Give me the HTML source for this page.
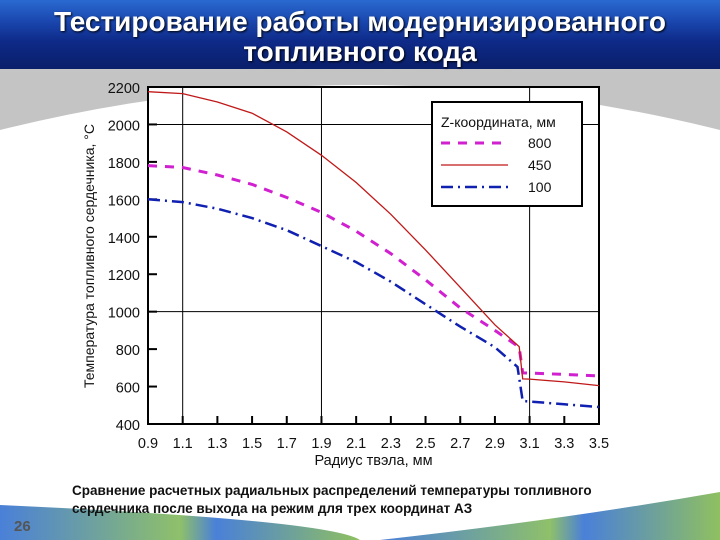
<!DOCTYPE html>
<html><head><meta charset="utf-8">
<style>
body{margin:0;width:720px;height:540px;overflow:hidden;position:relative;background:#fff;font-family:"Liberation Sans","DejaVu Sans",sans-serif}
#hdr{position:absolute;left:0;top:0;width:720px;height:69px;background:linear-gradient(180deg,#2a6ad0 0%,#1a48b0 30%,#0e2a88 60%,#0a1f6a 100%)}
#ttl{position:absolute;left:0;top:7px;width:720px;text-align:center;color:#fff;font-weight:bold;font-size:28px;line-height:30px;text-shadow:1px 1px 2px #000}
#cap{position:absolute;left:72px;top:482px;font-size:13.5px;font-weight:bold;line-height:18px;color:#111;white-space:nowrap}
#pg{position:absolute;left:14px;top:518px;font-size:15px;font-weight:bold;color:#555}
</style></head><body>
<div id="hdr"></div>
<svg width="720" height="540" style="position:absolute;left:0;top:0">
<path d="M0,69 H720 V130 Q360,40 0,130 Z" fill="#c4c4c4"/>
<defs><linearGradient id="bg2" x1="0" x2="1"><stop offset="0" stop-color="#4a80d8"/><stop offset="0.5" stop-color="#8fc06a"/><stop offset="0.6" stop-color="#4a80d8"/><stop offset="1" stop-color="#8fc060"/></linearGradient></defs>
<path d="M0,505 Q330,520 360,540 H0 Z" fill="url(#bg2)"/>
<path d="M380,540 Q560,520 720,492 V540 Z" fill="url(#bg2)"/>
</svg>
<div id="ttl">Тестирование работы модернизированного<br>топливного кода</div>
<svg id="chart" width="720" height="540" style="position:absolute;left:0;top:0"></svg>
<div id="cap">Сравнение расчетных радиальных распределений температуры топливного<br>сердечника после выхода на режим для трех координат АЗ</div>
<div id="pg">26</div>
<script>
const xTicks=[0.9,1.1,1.3,1.5,1.7,1.9,2.1,2.3,2.5,2.7,2.9,3.1,3.3,3.5];
const yTicks=[400,600,800,1000,1200,1400,1600,1800,2000,2200];
const xGrid=[1.1,1.9,3.1];
const yGrid=[1000,2000];
const rX=[0.9,1.1,1.3,1.5,1.7,1.9,2.1,2.3,2.5,2.7,2.9,3.04,3.06,3.1,3.3,3.5];
const s450=[2175,2165,2120,2060,1960,1835,1690,1520,1330,1130,930,813,641,640,625,605];
const s800=[1780,1770,1730,1680,1610,1530,1430,1310,1170,1020,900,810,673,672,665,657];
const bX=[0.9,1.1,1.3,1.5,1.7,1.9,2.1,2.3,2.5,2.7,2.9,3.03,3.06,3.1,3.3,3.5];
const s100=[1600,1585,1550,1500,1435,1350,1265,1160,1040,920,810,705,523,520,505,491];
const L=148,R=599,T=87,B=424;
const sx=v=>L+(v-0.9)/(3.5-0.9)*(R-L);
const sy=v=>B-(v-400)/(2200-400)*(B-T);
const svg=document.getElementById('chart');const NS='http://www.w3.org/2000/svg';
function mk(t,a,txt){const e=document.createElementNS(NS,t);for(const k in a)e.setAttribute(k,a[k]);if(txt!==undefined)e.textContent=txt;svg.appendChild(e);return e;}
let e=mk('rect',{x:L,y:T,width:R-L,height:B-T,fill:'#fff',stroke:'#000','stroke-width':2});


xGrid.forEach(v=>{const g=mk('line',{x1:sx(v),x2:sx(v),y1:T,y2:B,stroke:'#000','stroke-width':1});

});
yGrid.forEach(v=>{const g=mk('line',{x1:L,x2:R,y1:sy(v),y2:sy(v),stroke:'#000','stroke-width':1});

});
xTicks.forEach(v=>{const t=mk('line',{x1:sx(v),x2:sx(v),y1:B,y2:B-8,stroke:'#000','stroke-width':2});


const l=mk('text',{x:sx(v),y:B+24,'text-anchor':'middle','font-size':14.5,fill:'#111'},String(v));

});
yTicks.forEach(v=>{const t=mk('line',{x1:L,x2:L+9,y1:sy(v),y2:sy(v),stroke:'#000','stroke-width':2});


const l=mk('text',{x:L-8,y:sy(v)+6,'text-anchor':'end','font-size':14.5,fill:'#111'},String(v));

});
let xt=mk('text',{x:(L+R)/2,y:465,'text-anchor':'middle','font-size':14.5,fill:'#111'},'Радиус твэла, мм');


let yt=mk('text',{x:0,y:0,transform:'translate(94,256) rotate(-90)','text-anchor':'middle','font-size':14,fill:'#111'},'Температура топливного сердечника, °С');


function line(xs,ys,st,nm){const p=xs.map((x,i)=>(i?'L':'M')+sx(x).toFixed(1)+','+sy(ys[i]).toFixed(1)).join(' ');
const s=mk('path',Object.assign({d:p,fill:'none'},st));

}
line(rX,s800,{stroke:'#d020d0','stroke-width':3,'stroke-dasharray':'9,8'},'series-800');
line(rX,s450,{stroke:'#c01818','stroke-width':1.3},'series-450');
line(bX,s100,{stroke:'#1020b0','stroke-width':2.5,'stroke-dasharray':'12,5,2,5'},'series-100');
let lg=mk('rect',{x:432,y:102,width:150,height:104,fill:'#fff',stroke:'#000','stroke-width':2});


let lt=mk('text',{x:441,y:127,'font-size':14,fill:'#111'},'Z-координата, мм');


[['800',{stroke:'#d020d0','stroke-width':3,'stroke-dasharray':'9,8'},143],['450',{stroke:'#c01818','stroke-width':1.3},165],['100',{stroke:'#1020b0','stroke-width':2.5,'stroke-dasharray':'12,5,2,5'},187]].forEach(([n,st,y])=>{
const ln=mk('line',Object.assign({x1:441,x2:508,y1:y,y2:y},st));


const tx=mk('text',{x:528,y:y+5,'font-size':14,fill:'#111'},n);

});
</script>
</body></html>
